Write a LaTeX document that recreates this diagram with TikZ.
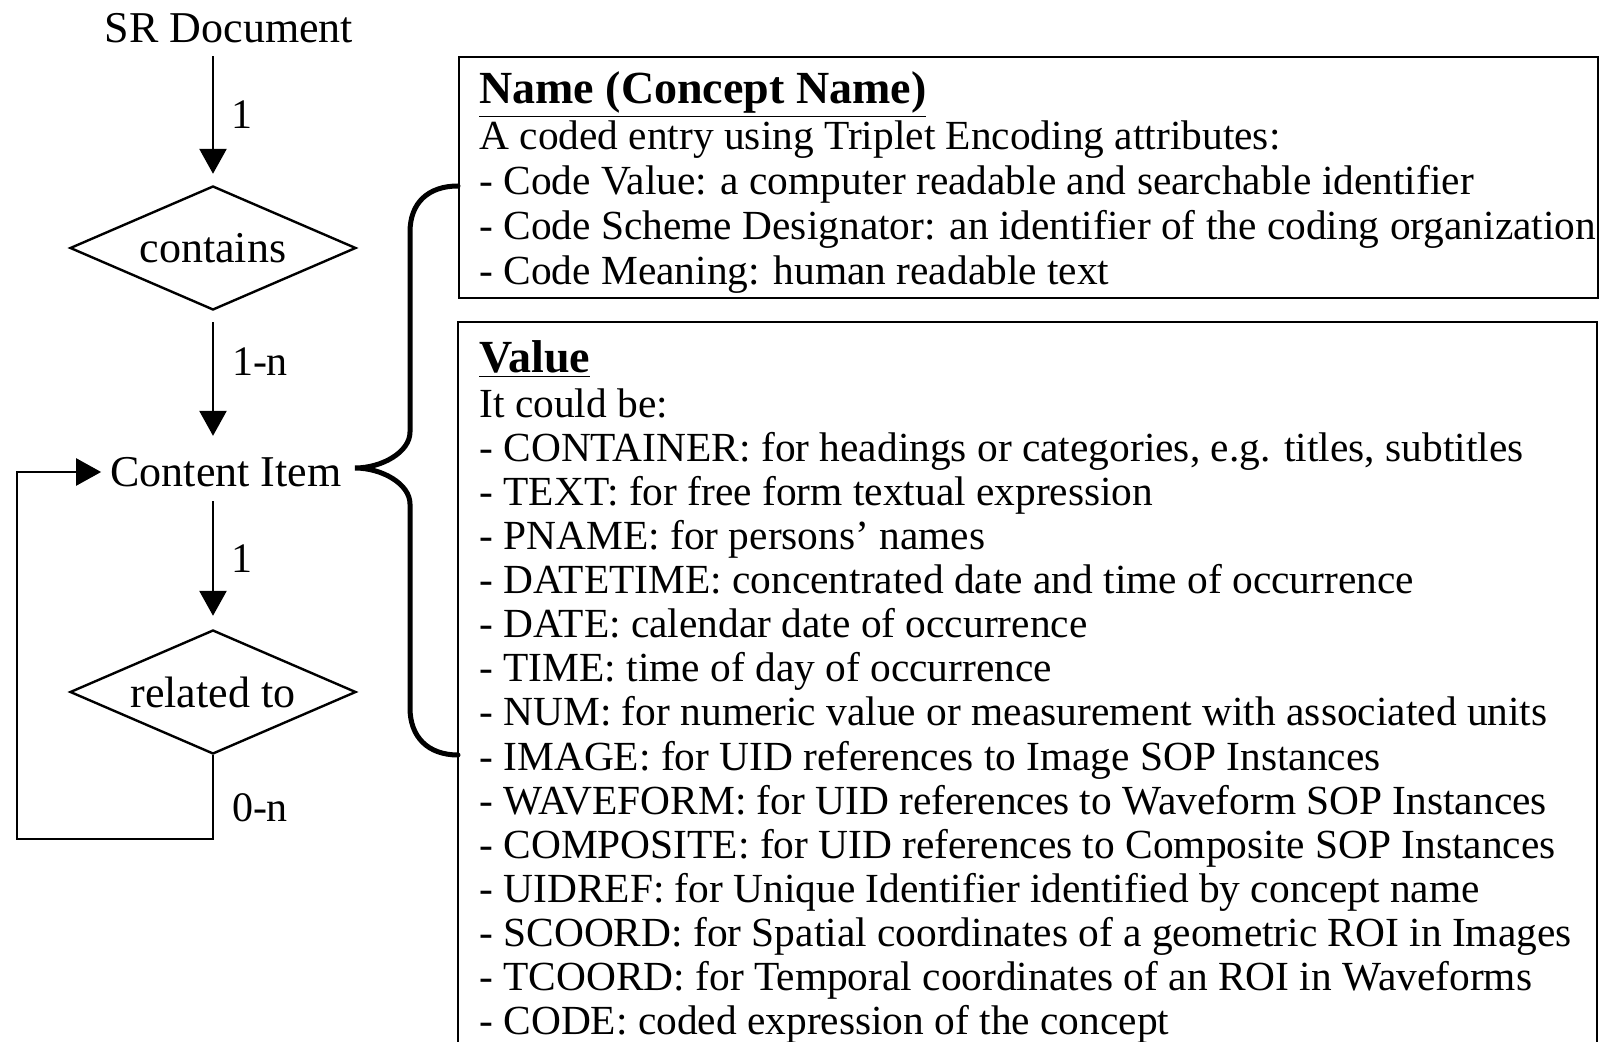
\documentclass[tikz,border=0pt]{standalone}
\usepackage{fontspec}
\setmainfont{Liberation Serif}
\usetikzlibrary{shapes.geometric,arrows.meta}
\begin{document}
\begin{tikzpicture}[x=0.5pt,y=-0.5pt,
  lbl/.style={font=\fontsize{22}{24}\selectfont, inner sep=0pt},
  num/.style={font=\fontsize{21}{24}\selectfont, inner sep=0pt},
  dia/.style={draw, line width=1.2pt, diamond, aspect=2.3, minimum width=143pt, minimum height=62pt, inner sep=0pt, font=\fontsize{22}{24}\selectfont},
  arr/.style={line width=1.3pt, -{Triangle[width=13.5pt,length=12.5pt]}},
  boxline/.style={line width=1.2pt},
  body/.style={font=\fontsize{20.7}{22}\selectfont, inner sep=0pt, anchor=base west},
  head/.style={font=\fontsize{23}{24}\selectfont\bfseries, inner sep=0pt, anchor=base west},
  bracel/.style={line width=2.5pt, line cap=round},
]
\useasboundingbox[fill=white] (0,0) rectangle (1599,1042);

% left flow
\node[lbl] (sr) at (229,28) {SR Document};
\node[dia] (contains) at (213,248) {contains};
\node[lbl, inner sep=4.5pt] (ci) at (226,472) {Content Item};
\node[dia] (related) at (213,692) {related to};

\draw[arr, shorten <=6.5pt, shorten >=5.5pt] (sr.south -| contains.north) -- (contains.north);
\draw[arr, shorten <=5.5pt, shorten >=6pt] (contains.south) -- (ci.north -| contains.south);
\draw[arr, shorten <=2.5pt, shorten >=6.5pt] (ci.south -| related.north) -- (related.north);
\coordinate (lb) at (213,839);
\coordinate (ll) at (17,839);
\draw[arr] (related.south) -- (lb) -- (ll) |- (ci.west);

\node[num] (n1) at (242,115) {1};
\node[num] (n2) at (260,362) {1-n};
\node[num] (n3) at (242,559) {1};
\node[num] (n4) at (260,808) {0-n};

% boxes
\node[draw, boxline, minimum width=569.5pt, minimum height=120.5pt, inner sep=0pt, anchor=north west] (box1) at (458,56) {};
\coordinate (b2bl) at (458,1042);
\coordinate (b2tl) at (458,322);
\coordinate (b2tr) at (1597,322);
\coordinate (b2br) at (1597,1042);
\draw[boxline] (b2bl) -- (b2tl) -- (b2tr) -- (b2br);

% brace
\coordinate (bt) at (458,186);
\coordinate (tip) at (355,468);
\coordinate (bb) at (458,755);
\draw[bracel] (bt) .. controls (428,186) and (410,203) .. (410,232) -- (410,432)
  .. controls (410,452) and (382,468) .. (tip)
  .. controls (382,468) and (410,484) .. (410,504) -- (410,708)
  .. controls (410,737) and (428,755) .. (bb);

% box 1 text
\node[head] (t1) at (479,104) {\underline{Name (Concept Name)}};
\foreach \t [count=\i] in {
  {A coded entry using Triplet Encoding attributes:},
  {- Code Value: a computer readable and searchable identifier},
  {- Code Scheme Designator: an identifier of the coding organization},
  {- Code Meaning: human readable text}}
  \node[body] (a\i) at (479,{104+45.1*\i}) {\t};

% box 2 text
\node[head] (t2) at (479,373) {\underline{Value}};
\foreach \t [count=\i] in {
  {It could be:},
  {- CONTAINER: for headings or categories, e.g. titles, subtitles},
  {- TEXT: for free form textual expression},
  {- PNAME: for persons' names},
  {- DATETIME: concentrated date and time of occurrence},
  {- DATE: calendar date of occurrence},
  {- TIME: time of day of occurrence},
  {- NUM: for numeric value or measurement with associated units},
  {- IMAGE: for UID references to Image SOP Instances},
  {- WAVEFORM: for UID references to Waveform SOP Instances},
  {- COMPOSITE: for UID references to Composite SOP Instances},
  {- UIDREF: for Unique Identifier identified by concept name},
  {- SCOORD: for Spatial coordinates of a geometric ROI in Images},
  {- TCOORD: for Temporal coordinates of an ROI in Waveforms},
  {- CODE: coded expression of the concept}}
  \node[body] (v\i) at (479,{373+44.12*\i}) {\t};
\end{tikzpicture}
\end{document}
